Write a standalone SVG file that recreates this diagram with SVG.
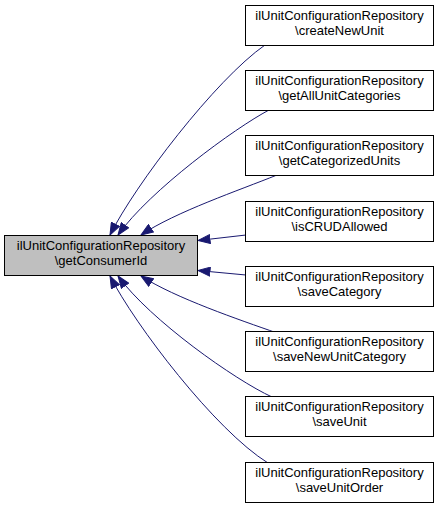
<svg xmlns="http://www.w3.org/2000/svg" width="443" height="509" viewBox="0 0 443 509">
<style>
.n rect{fill:#ffffff;stroke:#000000;stroke-width:1}
.n.main rect{fill:#bfbfbf}
.n text{font-family:"Liberation Sans",Arial,sans-serif;font-size:13px;fill:#000000;text-anchor:middle}
.e path{fill:none;stroke:#191970;stroke-width:1;marker-end:url(#arr)}
</style>
<defs>
<marker id="arr" markerUnits="userSpaceOnUse" viewBox="0 0 13 10" markerWidth="13" markerHeight="10" refX="12.5" refY="5" orient="auto">
<path d="M0.5,0.5 L12.5,5 L0.5,9.5 Z" fill="#191970" stroke="#191970" stroke-width="1"/>
</marker>
</defs>
<g id="edges" class="e">
<path d="M265,45 C215,80 135,185 110,235"/>
<path d="M269,110 C235,128 150,190 118,235"/>
<path d="M277,175 C240,190 175,212 141,235"/>
<path d="M246,235 L198,240.5"/>
<path d="M246,275 L198,270.5"/>
<path d="M277,333 C240,320 175,298 141,276"/>
<path d="M272,397 C235,380 150,320 118,276"/>
<path d="M268,463 C215,430 135,325 110,276"/>
</g>
<g id="node_main" class="n main">
<rect x="4.5" y="235.5" width="193" height="40"/>
<text x="101" y="250">ilUnitConfigurationRepository</text>
<text x="101" y="265">\getConsumerId</text>
</g>
<g id="node_createNewUnit" class="n">
<rect x="245.5" y="5.5" width="188" height="40"/>
<text x="339.5" y="20">ilUnitConfigurationRepository</text>
<text x="339.5" y="35">\createNewUnit</text>
</g>
<g id="node_getAllUnitCategories" class="n">
<rect x="245.5" y="70.5" width="188" height="40"/>
<text x="339.5" y="85">ilUnitConfigurationRepository</text>
<text x="339.5" y="100">\getAllUnitCategories</text>
</g>
<g id="node_getCategorizedUnits" class="n">
<rect x="245.5" y="135.5" width="188" height="40"/>
<text x="339.5" y="150">ilUnitConfigurationRepository</text>
<text x="339.5" y="165">\getCategorizedUnits</text>
</g>
<g id="node_isCRUDAllowed" class="n">
<rect x="245.5" y="201.5" width="188" height="40"/>
<text x="339.5" y="216">ilUnitConfigurationRepository</text>
<text x="339.5" y="231">\isCRUDAllowed</text>
</g>
<g id="node_saveCategory" class="n">
<rect x="245.5" y="266.5" width="188" height="40"/>
<text x="339.5" y="281">ilUnitConfigurationRepository</text>
<text x="339.5" y="296">\saveCategory</text>
</g>
<g id="node_saveNewUnitCategory" class="n">
<rect x="245.5" y="331.5" width="188" height="40"/>
<text x="339.5" y="346">ilUnitConfigurationRepository</text>
<text x="339.5" y="361">\saveNewUnitCategory</text>
</g>
<g id="node_saveUnit" class="n">
<rect x="245.5" y="396.5" width="188" height="40"/>
<text x="339.5" y="411">ilUnitConfigurationRepository</text>
<text x="339.5" y="426">\saveUnit</text>
</g>
<g id="node_saveUnitOrder" class="n">
<rect x="245.5" y="462.5" width="188" height="40"/>
<text x="339.5" y="477">ilUnitConfigurationRepository</text>
<text x="339.5" y="492">\saveUnitOrder</text>
</g>
</svg>
